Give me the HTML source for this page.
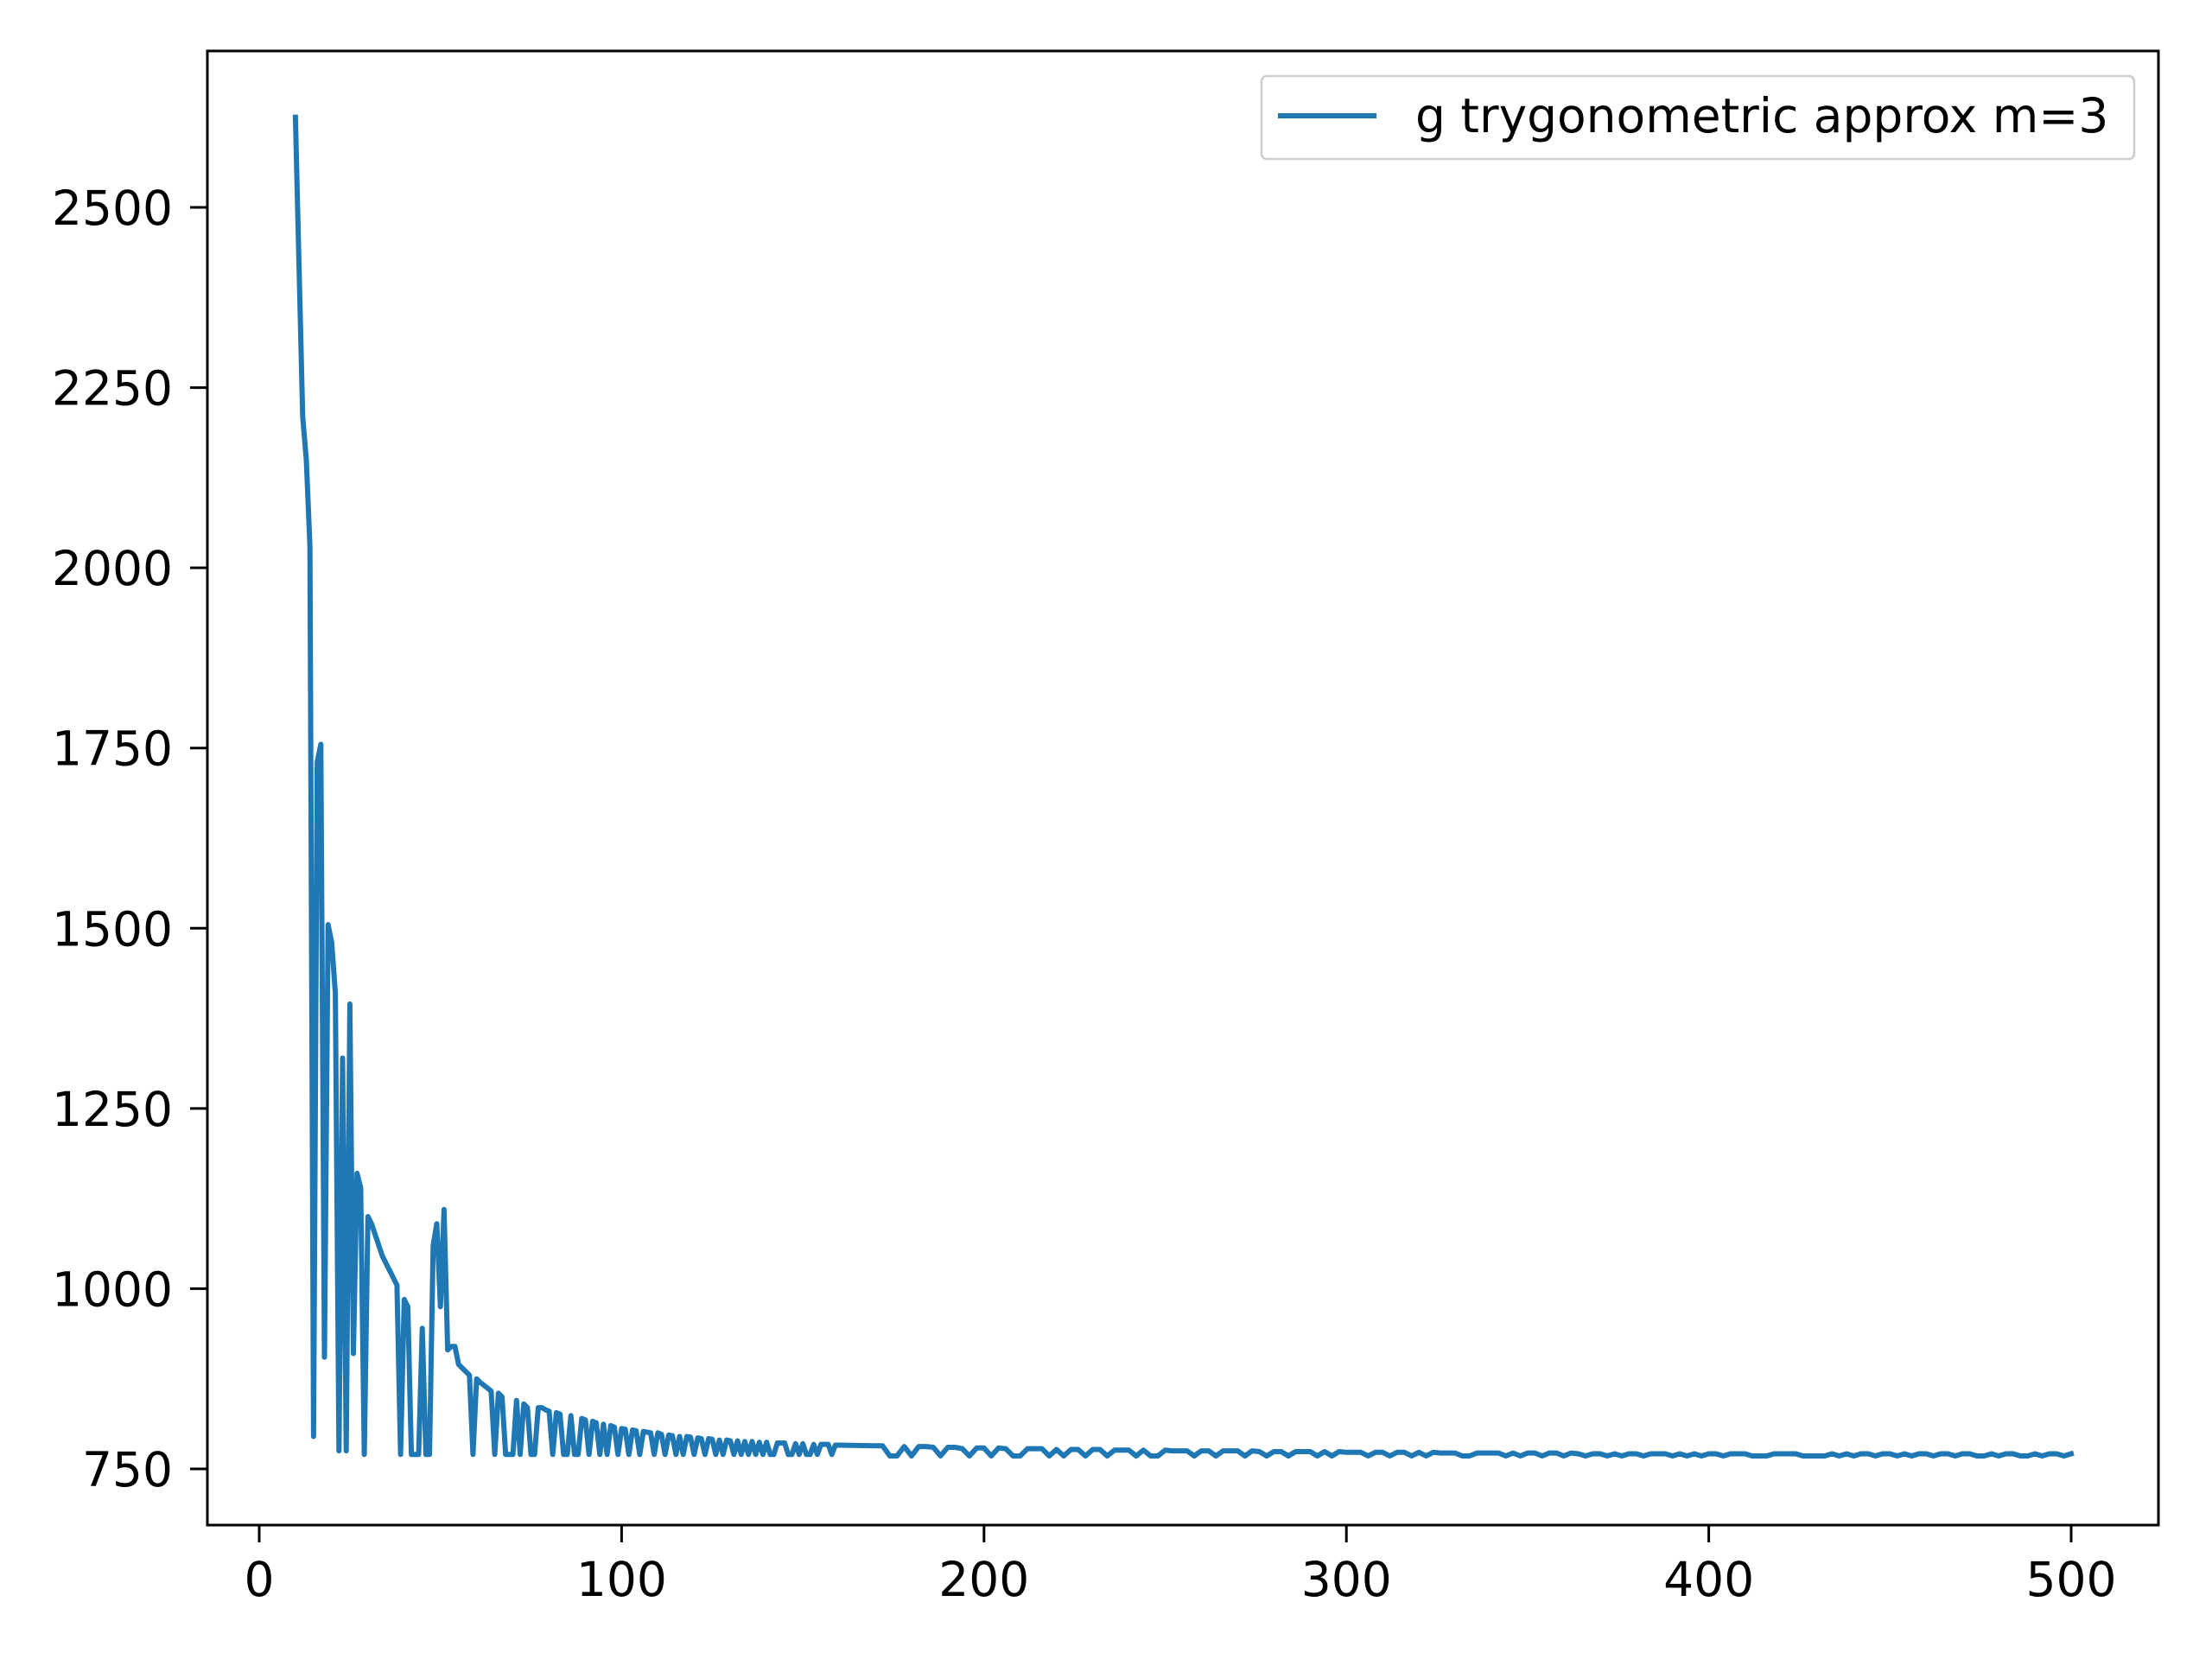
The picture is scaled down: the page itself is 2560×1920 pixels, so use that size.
<!DOCTYPE html>
<html><head><meta charset="utf-8"><style>
body{margin:0;background:#fff}
svg{display:block;font-family:"DejaVu Sans","Liberation Sans",sans-serif}
</style></head><body>
<svg id="chart" width="2560" height="1920" viewBox="0 0 2560 1920" xmlns="http://www.w3.org/2000/svg">
<rect width="2560" height="1920" fill="#fff"/>
<g id="plot"></g>
<g id="axes"></g>
</svg>
<script>
const xTicks=[0,100,200,300,400,500];
const yTicks=[750,1000,1250,1500,1750,2000,2250,2500];
const xsEarly=[10,12,13,14,15,16,17,18,19,20,21,22,23,24,25,26,27,28,29,30,31,32,33,34,35,36,37,38,39,40,41,42,43,44,45,46,47,48,49,50,51,52,53,54,55,56,57,58,59,60,61,62,63,64,65,66,67,68,69,70,71,72,73,74,75,76,77,78,79,80];
const ysEarly=[2625,2210,2150,2030,795,1730,1755,905,1505,1480,1410,775,1320,775,1395,910,1160,1140,770,1100,1090,1075,1060,1045,1035,1025,1015,1005,770,985,975,770,770,770,945,770,770,1060,1090,975,1110,915,920,920,895,890,885,880,770,875,870,866,862,858,770,855,850,770,770,770,845,770,840,835,770,770,835,835,832,830];
const xsMid=[81,82,83,84,85,86,87,88,89,90,91,92,93,94,95,96,97,98,99,100,101,102,103,104,105,106,107,108,109,110,111,112,113,114,115,116,117,118,119,120,121,122,123,124,125,126,127,128,129,130,131,132,133,134,135,136,137,138,139,140,141,142,143,144,145,146,147,148,149,150,151,152,153,154,155,156,157,158,159,160,170];
const ysMid=[770,828,826,770,770,824,770,770,820,818,770,816,814,770,812,770,810,808,770,806,805,770,804,803,770,802,801,800,770,800,798,770,797,796,770,795,770,795,794,770,793,792,770,792,791,770,790,770,790,789,770,789,770,788,770,788,770,787,770,787,770,770,786,786,786,770,770,785,770,785,770,770,784,770,784,784,784,770,783,783,782];
const ysLate=[782,768,768,781,768,781,781,780,768,780,780,778,768,779,779,768,779,778,768,768,778,778,778,768,777,768,777,777,768,777,777,768,776,776,776,768,776,768,768,776,775,775,775,768,775,775,768,775,775,775,768,775,774,768,774,774,768,774,774,774,768,774,768,774,773,773,773,768,773,773,768,773,773,768,773,768,773,772,772,772,768,768,772,772,772,772,768,772,768,772,772,768,772,772,768,772,771,768,771,771,768,771,768,771,771,768,771,771,771,768,771,768,771,768,771,771,768,771,771,771,768,768,768,771,771,771,771,768,768,768,768,771,768,771,768,771,771,768,771,771,768,771,768,771,771,768,771,771,768,771,771,768,768,771,768,771,771,768,768,771,768,771,771,768,771];
const lateStart=172, lateStep=2;

const NS="http://www.w3.org/2000/svg";
const L=240,R=2498,T=59,B=1765;
const xScale=v=>300+(v-0)*(2397-300)/500;
const yScale=v=>1700-(v-750)*(1700-240)/1750;
const plot=document.getElementById('plot'),axes=document.getElementById('axes');
function mk(tag,attrs,parent){const e=document.createElementNS(NS,tag);for(const k in attrs)e.setAttribute(k,attrs[k]);parent.appendChild(e);return e;}

const X=[...xsEarly,...xsMid],Y=[...ysEarly,...ysMid];
ysLate.forEach((v,i)=>{X.push(lateStart+i*lateStep);Y.push(v);});
let d='';X.forEach((x,i)=>{d+=(i?'L':'M')+xScale(x).toFixed(1)+' '+yScale(Y[i]).toFixed(1);});
const line=mk('path',{d:d,fill:'none',stroke:'#1f77b4','stroke-width':6,'stroke-linejoin':'round','stroke-linecap':'square'},plot);



const frame=mk('rect',{x:L,y:T,width:R-L,height:B-T,fill:'none',stroke:'#000','stroke-width':3},axes);



xTicks.forEach(v=>{const x=xScale(v);
 const t=mk('line',{x1:x,x2:x,y1:B,y2:B+20,stroke:'#000','stroke-width':3},axes);
 
 
 const l=mk('text',{x:x,y:B+82,'font-size':55,'text-anchor':'middle',fill:'#000'},axes);l.textContent=v;
 
 });
yTicks.forEach(v=>{const y=yScale(v);
 const t=mk('line',{x1:L-20,x2:L,y1:y,y2:y,stroke:'#000','stroke-width':3},axes);
 
 
 const l=mk('text',{x:L-40,y:y+20,'font-size':55,'text-anchor':'end',fill:'#000'},axes);l.textContent=v;
 
 });

const lg=mk('g',{},axes);


mk('rect',{x:1460,y:88,width:1010,height:96,rx:6,fill:'#fff',stroke:'#ccc','stroke-width':2.5},lg);
const ls=mk('line',{x1:1479,x2:1593,y1:134,y2:134,stroke:'#1f77b4','stroke-width':6},lg);


const lt=mk('text',{x:1638,y:153,'font-size':55,fill:'#000'},lg);lt.textContent='g trygonometric approx m=3';


</script>
</body></html>
